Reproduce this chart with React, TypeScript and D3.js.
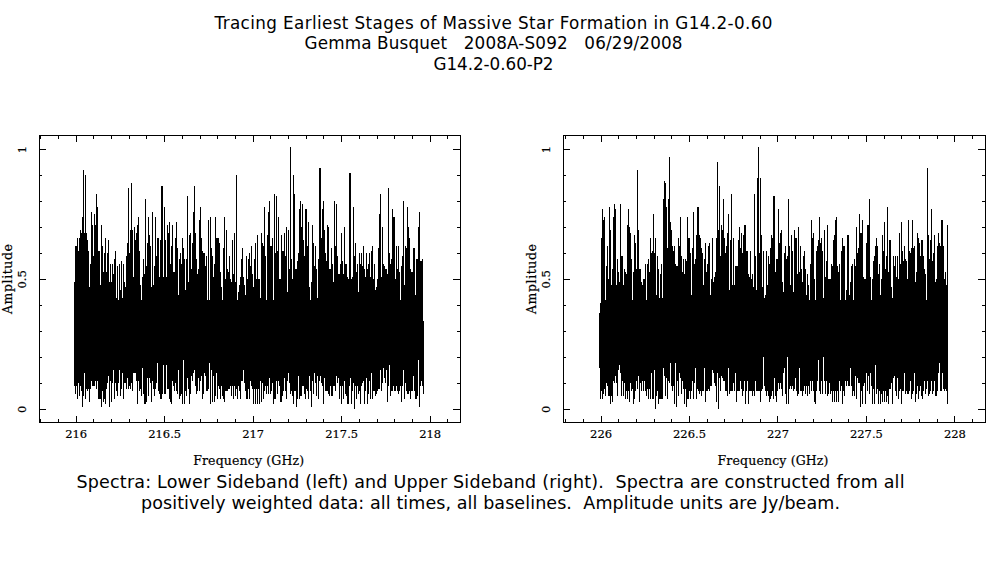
import React from "react";
import * as d3 from "d3";

const titleLines = [
  "Tracing Earliest Stages of Massive Star Formation in G14.2-0.60",
  "Gemma Busquet   2008A-S092   06/29/2008",
  "G14.2-0.60-P2",
];
const captionLines = [
  "Spectra: Lower Sideband (left) and Upper Sideband (right).  Spectra are constructed from all",
  "positively weighted data: all times, all baselines.  Amplitude units are Jy/beam.",
];

// Upper and lower envelopes of each spectrum, one value per plotted channel, in hundredths of Jy/beam.
const lsbUpper = [49,63,63,66,61,66,69,68,74,92,68,90,68,65,61,47,56,76,71,59,75,71,83,78,61,61,48,71,63,53,60,66,53,60,65,49,56,49,56,52,58,61,43,55,42,56,46,57,43,56,49,47,59,64,85,60,69,87,69,51,70,65,68,71,74,61,48,42,51,58,52,81,55,64,74,67,63,47,76,48,55,74,59,66,66,51,65,86,86,51,78,65,51,71,68,72,56,63,71,53,53,66,72,62,44,58,60,56,66,62,58,46,58,82,49,67,68,54,64,76,86,68,58,52,54,73,78,66,61,60,60,55,59,42,73,42,74,62,59,51,56,74,66,66,66,64,53,47,42,62,74,50,69,54,53,59,50,49,65,52,68,49,90,42,45,48,51,58,62,51,48,44,59,50,58,
60,55,63,52,47,58,64,50,67,50,50,43,68,64,63,78,59,42,67,76,80,63,63,66,42,83,60,82,61,74,50,50,67,61,61,68,59,70,45,69,54,101,58,50,90,83,54,54,57,60,77,80,70,79,65,59,77,77,63,72,47,42,49,71,64,55,63,54,43,58,93,93,66,77,80,69,60,57,71,70,54,54,62,56,49,80,63,79,59,52,52,56,68,57,52,70,56,56,51,50,91,91,50,51,78,59,64,53,56,45,60,56,60,55,63,54,51,60,54,56,60,51,61,63,50,56,46,47,50,62,75,83,51,70,56,55,54,54,52,85,60,56,58,77,74,74,50,63,54,63,53,42,55,59,80,48,63,62,78,70,66,54,53,53,62,62,44,58,58,70,76,57,57,58,34];
const lsbLower = [9,6,9,4,10,5,9,7,1,5,14,4,8,7,8,3,8,11,9,9,9,11,8,11,4,4,4,1,7,3,4,2,8,10,13,1,11,3,10,15,4,10,7,5,10,15,5,8,14,4,10,10,8,12,8,9,8,10,7,14,14,14,11,2,11,7,8,5,16,6,2,2,3,12,5,12,10,3,11,8,5,8,10,18,7,6,4,4,6,17,6,6,17,8,8,4,3,2,11,9,7,10,7,6,15,4,5,6,2,19,2,7,5,12,8,2,6,13,11,14,15,9,6,7,12,7,11,13,4,6,14,13,7,7,8,18,2,15,3,13,3,5,14,4,9,8,4,9,5,4,3,7,7,7,8,8,9,5,9,4,9,5,8,4,9,7,4,11,11,15,10,7,4,4,8,4,
11,9,8,2,8,2,8,2,8,2,11,3,10,4,7,9,6,9,6,12,6,7,10,2,4,4,11,6,11,9,3,3,5,7,12,7,4,11,14,10,6,7,5,2,7,7,1,4,13,4,5,5,9,9,6,4,8,7,4,13,7,1,11,6,14,10,5,13,4,11,13,10,9,2,12,7,7,7,6,5,9,5,5,9,9,7,13,10,12,4,9,2,9,4,11,6,5,2,2,9,12,2,7,10,0,9,4,9,6,7,2,9,10,11,2,7,12,2,6,11,4,14,4,7,7,5,6,7,8,8,15,7,10,16,12,10,15,3,9,17,5,7,7,9,7,7,9,7,6,7,9,3,9,15,4,10,7,6,6,7,4,7,7,13,7,4,4,5,19,1,9,11,9,6,5,8,6,7];
const usbUpper = [37,41,66,77,73,74,42,55,63,50,78,69,48,54,74,79,77,48,58,53,49,79,59,59,48,54,53,52,71,77,70,68,58,42,53,67,64,54,92,69,54,54,49,48,50,50,56,42,56,58,53,66,60,61,75,60,66,44,59,54,43,52,56,43,81,88,87,78,62,81,97,72,69,63,61,63,56,55,55,66,63,74,59,53,58,52,58,57,74,66,66,60,44,62,76,56,58,67,78,78,67,66,62,60,48,58,64,53,56,63,64,44,50,66,49,51,53,66,95,69,86,59,71,69,81,66,60,63,68,75,46,65,83,48,66,48,55,55,55,65,70,62,68,60,67,71,71,61,61,52,51,61,50,52,47,83,59,46,89,101,60,89,67,47,61,43,44,61,48,59,56,62,67,66,82,82,
53,58,58,77,64,68,69,49,45,60,63,58,59,81,63,48,67,61,45,69,66,66,52,70,53,63,54,49,59,61,54,44,52,48,42,56,73,66,68,50,42,61,63,65,74,64,66,61,43,69,51,57,71,50,50,50,56,55,65,67,73,74,55,53,56,42,61,66,63,63,42,46,67,67,44,49,55,56,42,58,55,70,60,62,75,68,68,73,51,50,50,64,71,71,81,51,42,50,57,59,63,66,63,52,56,44,50,67,61,72,54,59,78,53,65,65,47,43,59,55,59,51,59,50,68,56,72,61,57,63,58,57,50,73,61,60,62,73,62,63,49,53,68,66,64,59,65,65,59,54,52,42,93,67,58,65,77,57,60,67,49,50,63,68,64,63,73,73,63,50,53,48,71,53,52];
const usbLower = [16,4,7,4,6,8,5,10,9,5,5,2,5,3,11,10,13,10,5,15,17,14,5,11,5,10,4,7,4,7,3,10,7,8,2,4,7,11,8,13,3,10,7,11,7,11,7,5,8,4,8,4,14,4,4,15,0,5,7,2,4,4,4,4,16,13,5,12,4,11,10,18,9,7,9,2,18,1,11,5,14,12,6,11,8,2,8,1,4,4,7,4,7,11,4,10,16,4,8,7,6,7,5,7,7,16,3,7,7,8,7,9,9,15,14,10,9,3,14,0,12,7,13,12,11,11,7,7,5,16,6,7,7,7,10,7,14,3,7,7,7,11,8,5,7,11,2,7,11,2,7,7,7,5,7,5,11,7,7,7,7,3,7,8,20,9,7,5,7,5,3,4,5,7,4,
12,5,3,7,10,8,10,8,5,14,16,6,2,20,2,8,9,8,9,7,8,12,7,5,6,16,7,7,5,7,9,6,9,5,9,6,11,7,11,7,3,2,7,11,19,7,6,11,6,20,11,6,11,5,6,10,6,7,3,7,3,7,3,7,3,11,7,9,2,7,5,11,9,11,9,9,16,9,5,7,5,13,4,12,10,10,1,7,2,9,10,2,14,7,13,6,14,9,2,8,2,17,6,8,2,7,2,6,3,7,3,7,3,5,2,8,8,10,2,12,13,7,5,12,4,7,8,2,7,7,14,6,7,6,6,7,11,4,6,7,14,3,6,9,4,7,9,5,4,7,11,6,8,11,5,6,7,11,6,7,11,5,5,7,14,18,7,7,14,8,7,8,7,2];

const leftStartGHz = 215.985;
const rightStartGHz = 225.989;
const channelGHz = 1 / 177;
const leftMajor = [216, 216.5, 217, 217.5, 218];
const rightMajor = [226, 226.5, 227, 227.5, 228];
const leftMinor = d3.range(215.8, 218.15, 0.1);
const rightMinor = d3.range(225.8, 228.15, 0.1);
const yMajor = [0, 0.5, 1];
const yMinor = [0.1, 0.2, 0.3, 0.4, 0.6, 0.7, 0.8, 0.9];

const titleWidths = [558, 378, 120];
const captionWidths = [828, 699];

const tickFont = '"DejaVu Serif", serif';

function Panel({ upper, lower, start, domain, left, right, major, minor }: any) {
  const top = 135.5, bottom = 422;
  const x = d3.scaleLinear().domain(domain).range([left, right]);
  const y = d3.scaleLinear().domain([0, 1]).range([409.3, 149.5]);
  const n = Math.min(upper.length, lower.length);
  const cx = (left + right) / 2 - 1;
  const labelProps = { fontFamily: tickFont, fill: "#000", stroke: "#000", strokeWidth: 0.2 };
  return (
    <g>
      <g shapeRendering="crispEdges">
        {d3.range(n).map((i) => {
          const px = Math.round(x(start + i * channelGHz));
          const y0 = y(upper[i] / 100);
          const y1 = y(lower[i] / 100);
          return <rect key={i} x={px} y={y0} width={1} height={y1 - y0} fill="#000" />;
        })}
        <rect x={left} y={top} width={right - left} height={bottom - top} fill="none" stroke="#000" strokeWidth={1} />
        {minor.map((t: number) => (
          <g key={"xm" + t}>
            <line x1={x(t)} x2={x(t)} y1={bottom} y2={bottom - 3} stroke="#000" />
            <line x1={x(t)} x2={x(t)} y1={top} y2={top + 3} stroke="#000" />
          </g>
        ))}
        {major.map((t: number) => (
          <g key={"xM" + t}>
            <line x1={x(t)} x2={x(t)} y1={bottom} y2={bottom - 6} stroke="#000" />
            <line x1={x(t)} x2={x(t)} y1={top} y2={top + 6} stroke="#000" />
          </g>
        ))}
        {yMinor.map((t: number) => (
          <g key={"ym" + t}>
            <line x1={left} x2={left + 3} y1={y(t)} y2={y(t)} stroke="#000" />
            <line x1={right} x2={right - 3} y1={y(t)} y2={y(t)} stroke="#000" />
          </g>
        ))}
        {yMajor.map((t: number) => (
          <g key={"yM" + t}>
            <line x1={left} x2={left + 7} y1={y(t)} y2={y(t)} stroke="#000" />
            <line x1={right} x2={right - 7} y1={y(t)} y2={y(t)} stroke="#000" />
          </g>
        ))}
      </g>
      {major.map((t: number) => (
        <text key={"xl" + t} x={x(t)} y={438} textAnchor="middle" fontSize={11.5} {...labelProps}>
          {String(t)}
        </text>
      ))}
      {yMajor.map((t: number) => (
        <text
          key={"yl" + t}
          transform={`translate(${left - 13},${y(t)}) rotate(-90)`}
          textAnchor="middle"
          fontSize={11.5}
          {...labelProps}
        >
          {String(t)}
        </text>
      ))}
      <text x={cx} y={464.5} textAnchor="middle" fontSize={12.5} textLength={111} {...labelProps}>
        Frequency (GHz)
      </text>
      <text
        transform={`translate(${left - 27},279) rotate(-90)`}
        textAnchor="middle"
        fontSize={12.5}
        textLength={70}
        {...labelProps}
      >
        Amplitude
      </text>
    </g>
  );
}

export default function App() {
  return (
    <svg width={987} height={567} style={{ position: "absolute", left: 0, top: 0, background: "#fff" }}>
      {titleLines.map((t, i) => (
        <text key={t} x={493.5} y={28.5 + i * 20.8} textAnchor="middle" fontFamily='"DejaVu Sans", sans-serif' fontSize={16.8} textLength={titleWidths[i]} xmlSpace="preserve" fill="#000">
          {t}
        </text>
      ))}
      <Panel upper={lsbUpper} lower={lsbLower} start={leftStartGHz} domain={[215.79, 218.17]} left={39} right={460.3} major={leftMajor} minor={leftMinor} />
      <Panel upper={usbUpper} lower={usbLower} start={rightStartGHz} domain={[225.785, 228.17]} left={563} right={985} major={rightMajor} minor={rightMinor} />
      {captionLines.map((t, i) => (
        <text key={t} x={490.5} y={488 + i * 21} textAnchor="middle" fontFamily='"DejaVu Sans", sans-serif' fontSize={17.5} textLength={captionWidths[i]} xmlSpace="preserve" fill="#000">
          {t}
        </text>
      ))}
    </svg>
  );
}
